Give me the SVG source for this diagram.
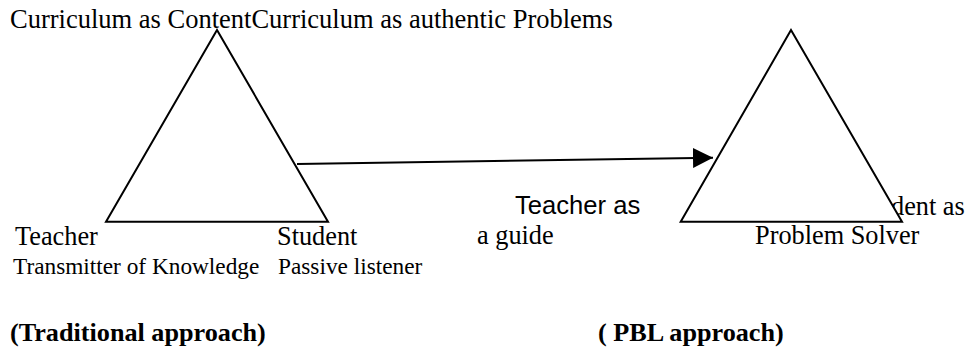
<svg xmlns="http://www.w3.org/2000/svg" width="967" height="350" viewBox="0 0 967 350">
  <style>
    .serif { font-family: "Liberation Serif", "Times New Roman", serif; font-size: 26.3px; fill: #000; }
    .top { font-size: 26.5px; }
    .small { font-size: 23.3px; }
    .sans { font-family: "Liberation Sans", Arial, sans-serif; font-size: 25.6px; fill: #000; }
    .bold { font-weight: bold; font-size: 26.2px; }
    .tri { fill: #fff; stroke: #000; stroke-width: 2; stroke-linejoin: miter; }
    .conn { stroke: #000; stroke-width: 2; fill: none; }
  </style>
  <defs>
    <marker id="arrow" markerUnits="userSpaceOnUse" markerWidth="20" markerHeight="20" refX="20" refY="10" orient="auto">
      <path d="M0,0 L20,10 L0,20 Z" fill="#000"/>
    </marker>
  </defs>
  <rect width="967" height="350" fill="#fff"/>

  <text class="serif top" x="10" y="28">Curriculum as ContentCurriculum as authentic Problems</text>

  <g id="traditional-triangle">
    <polygon class="tri" points="217,30 106,221.7 328,221.7"/>
  </g>

  <text class="serif" x="891" y="215">dent as</text>

  <g id="pbl-triangle">
    <polygon class="tri" points="791,30 680.7,221.7 902,221.7"/>
  </g>

  <g id="connectors">
    <line class="conn" x1="297" y1="164" x2="713" y2="157.7" marker-end="url(#arrow)"/>
  </g>

  <g id="traditional-labels">
    <text class="serif" x="15" y="245">Teacher</text>
    <text class="serif" x="277" y="245">Student</text>
    <text class="serif small" x="13" y="274">Transmitter of Knowledge</text>
    <text class="serif small" x="278" y="274">Passive listener</text>
  </g>

  <g id="guide-label">
    <text class="sans" x="515" y="214">Teacher as</text>
    <text class="serif" x="477" y="244">a guide</text>
  </g>

  <g id="pbl-labels">
    <text class="serif" x="755" y="244">Problem Solver</text>
  </g>

  <text class="serif bold" x="10" y="341">(Traditional approach)</text>
  <text class="serif bold" x="598" y="341">( PBL approach)</text>
</svg>
